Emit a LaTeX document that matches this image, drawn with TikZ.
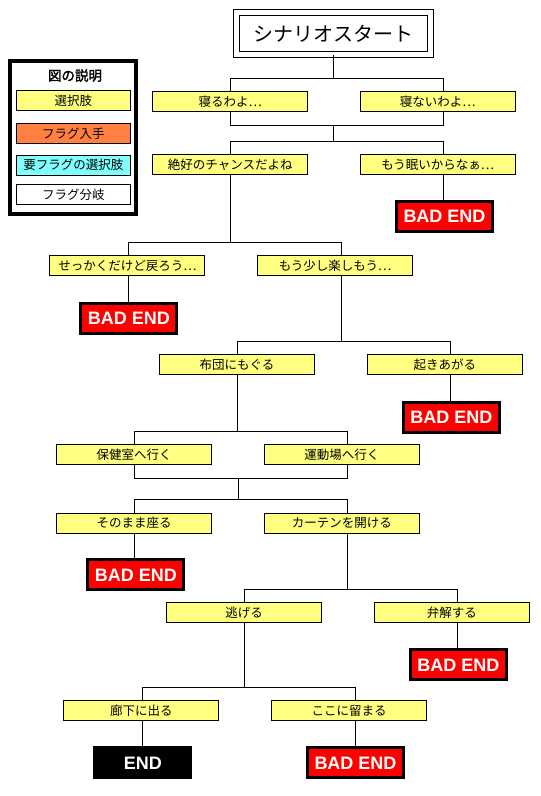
\documentclass[tikz,border=0pt]{standalone}
\usepackage{fontspec}
\setmainfont{Noto Sans CJK JP}[AutoFakeBold=2]
\newfontfamily\arialfont{Liberation Sans}
\definecolor{cyellow}{HTML}{FFFF80}
\definecolor{corange}{HTML}{FF8040}
\definecolor{ccyan}{HTML}{80FFFF}
\definecolor{cred}{HTML}{FF0000}
\begin{document}
\begin{tikzpicture}[x=1pt,y=-1pt,
  conn/.style={line width=1pt},
  choice/.style={draw=black, line width=1pt, fill=cyellow, minimum width=155pt, minimum height=20pt, inner sep=0pt, font=\fontsize{12.5}{12.5}\selectfont},
  legbox/.style={draw=black, line width=1pt, minimum width=113.4pt, minimum height=20pt, inner sep=0pt, font=\fontsize{12.5}{12.5}\selectfont},
  badend/.style={draw=black, line width=3pt, fill=cred, minimum width=96pt, minimum height=30pt, inner sep=0pt, text=white, font=\arialfont\bfseries\fontsize{18}{18}\selectfont},
  goodend/.style={fill=black, minimum width=99pt, minimum height=33pt, inner sep=0pt, text=white, font=\arialfont\bfseries\fontsize{18}{18}\selectfont},
  startbox/.style={draw=black, line width=1pt, double=white, double distance=5pt, minimum width=194pt, minimum height=42pt, inner sep=0pt, font=\fontsize{20}{20}\selectfont}
]
\useasboundingbox[fill=white] (0,0) rectangle (541,796);

% legend
\node[draw=black, line width=4pt, minimum width=126pt, minimum height=153pt, inner sep=0pt] (legend) at (73.3,137.8) {};
\node[font=\bfseries\fontsize{13.5}{13.5}\selectfont] (legtitle) at (75,75.5) {図の説明};
\node[legbox, fill=cyellow] (leg1) at (73.4,100.7) {選択肢};
\node[legbox, fill=corange] (leg2) at (73.4,133.8) {フラグ入手};
\node[legbox, fill=ccyan] (leg3) at (73.4,165) {要フラグの選択肢};
\node[legbox, fill=white] (leg4) at (73.4,194.8) {フラグ分岐};

% start
\node[startbox] (start) at (333.5,33.5) {シナリオスタート};

% nodes
\node[choice] (n1) at (230.2,101.8) {寝るわよ⋯};
\node[choice] (n2) at (437.8,101.8) {寝ないわよ⋯};
\node[choice] (n3) at (230.2,164.8) {絶好のチャンスだよね};
\node[choice] (n4) at (437.8,164.8) {もう眠いからなぁ⋯};
\node[badend] (bad1) at (444.5,216.8) {BAD END};
\node[choice] (n5) at (127.4,265.8) {せっかくだけど戻ろう⋯};
\node[choice] (n6) at (335,265.8) {もう少し楽しもう⋯};
\node[badend] (bad2) at (128.9,318) {BAD END};
\node[choice] (n7) at (237.1,364.8) {布団にもぐる};
\node[choice] (n8) at (444.9,364.8) {起きあがる};
\node[badend] (bad3) at (451.4,417) {BAD END};
\node[choice] (n9) at (134,454.8) {保健室へ行く};
\node[choice] (n10) at (341.9,454.8) {運動場へ行く};
\node[choice] (n11) at (134,523) {そのまま座る};
\node[choice] (n12) at (341.9,523) {カーテンを開ける};
\node[badend] (bad4) at (135.8,574.8) {BAD END};
\node[choice] (n13) at (244,612.8) {逃げる};
\node[choice] (n14) at (451.8,612.8) {弁解する};
\node[badend] (bad5) at (458.3,664.8) {BAD END};
\node[choice] (n15) at (141.3,710.8) {廊下に出る};
\node[choice] (n16) at (349.1,710.8) {ここに留まる};
\node[goodend] (end) at (142.8,762.8) {END};
\node[badend] (bad6) at (355.5,762.8) {BAD END};

% junctions
\coordinate (s0) at (333.5,78.3);
\coordinate (m1) at (333.9,125.3);
\coordinate (s1) at (333.9,141.3);
\coordinate (s2) at (230.9,242.3);
\coordinate (s3) at (341,341.3);
\coordinate (s4) at (237.8,431.5);
\coordinate (m4) at (238.1,478.3);
\coordinate (s5) at (238.1,499.3);
\coordinate (s6) at (347.9,589.3);
\coordinate (s7) at (244.7,687.3);

% connectors
\draw[conn] (start.south) -- (s0);
\draw[conn] ([xshift=0.7pt]n1.north) |- (s0) -| ([xshift=6pt]n2.north);
\draw[conn] ([xshift=0.7pt]n1.south) |- (m1) -| ([xshift=6pt]n2.south);
\draw[conn] (m1) -- (s1);
\draw[conn] ([xshift=0.7pt]n3.north) |- (s1) -| ([xshift=6pt]n4.north);
\draw[conn] ([xshift=6pt]n4.south) -- ([xshift=6pt]n4.south |- bad1.north);
\draw[conn] ([xshift=0.7pt]n3.south) -- (s2);
\draw[conn] ([xshift=0.7pt]n5.north) |- (s2) -| ([xshift=6pt]n6.north);
\draw[conn] ([xshift=0.7pt]n5.south) -- ([xshift=0.7pt]n5.south |- bad2.north);
\draw[conn] ([xshift=6pt]n6.south) -- (s3);
\draw[conn] ([xshift=0.7pt]n7.north) |- (s3) -| ([xshift=6pt]n8.north);
\draw[conn] ([xshift=6pt]n8.south) -- ([xshift=6pt]n8.south |- bad3.north);
\draw[conn] ([xshift=0.7pt]n7.south) -- (s4);
\draw[conn] ([xshift=0.7pt]n9.north) |- (s4) -| ([xshift=6pt]n10.north);
\draw[conn] ([xshift=0.7pt]n9.south) |- (m4) -| ([xshift=6pt]n10.south);
\draw[conn] (m4) -- (s5);
\draw[conn] ([xshift=0.7pt]n11.north) |- (s5) -| ([xshift=6pt]n12.north);
\draw[conn] ([xshift=0.7pt]n11.south) -- ([xshift=0.7pt]n11.south |- bad4.north);
\draw[conn] ([xshift=6pt]n12.south) -- (s6);
\draw[conn] ([xshift=0.7pt]n13.north) |- (s6) -| ([xshift=6pt]n14.north);
\draw[conn] ([xshift=6pt]n14.south) -- ([xshift=6pt]n14.south |- bad5.north);
\draw[conn] ([xshift=0.7pt]n13.south) -- (s7);
\draw[conn] ([xshift=0.7pt]n15.north) |- (s7) -| ([xshift=6pt]n16.north);
\draw[conn] ([xshift=0.7pt]n15.south) -- ([xshift=0.7pt]n15.south |- end.north);
\draw[conn] ([xshift=6pt]n16.south) -- ([xshift=6pt]n16.south |- bad6.north);
\end{tikzpicture}
\end{document}
